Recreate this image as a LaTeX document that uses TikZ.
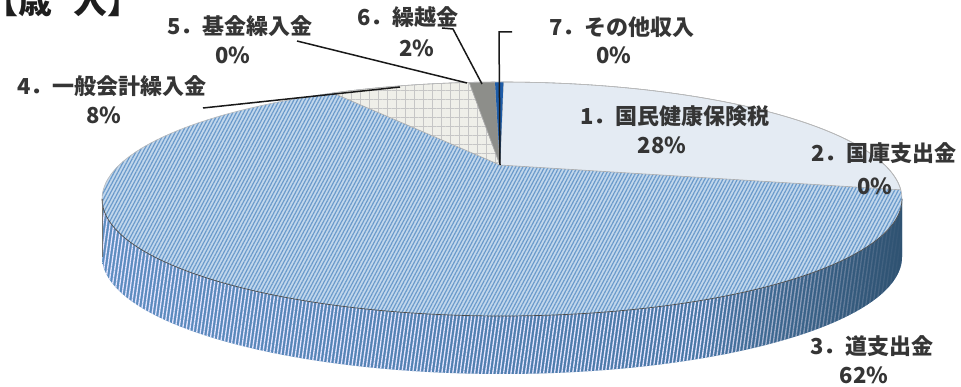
\documentclass[tikz,border=0pt]{standalone}
\usepackage{fontspec}
\setmainfont{Noto Sans CJK JP}
\usetikzlibrary{patterns.meta,fadings}
\definecolor{txt}{HTML}{1E1E1E}
\definecolor{sA}{HTML}{E4EBF3}
\definecolor{sD}{HTML}{EFEFE9}
\definecolor{sF}{HTML}{8D8E8A}
\definecolor{sG}{HTML}{1D5CA8}
\definecolor{topC}{HTML}{C2D7EC}
\definecolor{topL}{HTML}{6A9ACB}
\definecolor{sideL}{HTML}{5D8DC0}
\definecolor{sideR}{HTML}{41709C}
\definecolor{sideD}{HTML}{2F5271}
\tikzfading[name=darkright, left color=transparent!100, right color=transparent!0]
\begin{document}
\begin{tikzpicture}[x=1pt,y=-1pt,
  lab/.style={inner sep=0pt, font=\bfseries\fontsize{22}{25}\selectfont, text=txt!90},
  leader/.style={draw=black!90, line width=1.5pt},
  sliceedge/.style={draw=gray!65, line width=0.6pt}]
\useasboundingbox (0,0) rectangle (961,387);
\clip (0,0) rectangle (961,387);
\fill[white] (0,0) rectangle (961,387);
\coordinate (ap) at (500,165);
% side face
\path[shade, left color=sideL, right color=sideR]
  plot[domain=180:360,samples=90,variable=\t] ({502+400*cos(\t)},{199-117*sin(\t)})
  -- plot[domain=360:180,samples=90,variable=\t] ({502+400*cos(\t)},{257-117*sin(\t)}) -- cycle;
\path[pattern={Lines[angle=82,distance=3.6pt,line width=1.3pt]}, pattern color=white!90!blue]
  plot[domain=180:360,samples=90,variable=\t] ({502+400*cos(\t)},{199-117*sin(\t)})
  -- plot[domain=360:180,samples=90,variable=\t] ({502+400*cos(\t)},{257-117*sin(\t)}) -- cycle;
\begin{scope}
\clip plot[domain=180:360,samples=90,variable=\t] ({502+400*cos(\t)},{199-117*sin(\t)})
  -- plot[domain=360:180,samples=90,variable=\t] ({502+400*cos(\t)},{257-117*sin(\t)}) -- cycle;
\fill[sideD, path fading=darkright] (700,150) rectangle (905,390);
\end{scope}
% top face, slice 3
\path[fill=topC] (502,199) ellipse [x radius=400, y radius=117];
\path[pattern={Lines[angle=62,distance=3.2pt,line width=1.2pt]}, pattern color=topL] (502,199) ellipse [x radius=400, y radius=117];
% slice 1
\path[fill=sA, sliceedge] (ap) -- plot[domain=4.5:89.8,samples=60,variable=\t] ({502+400*cos(\t)},{199-117*sin(\t)}) -- cycle;
% slice 4
\path[fill=sD] (ap) -- plot[domain=94.7:115,samples=30,variable=\t] ({502+400*cos(\t)},{199-117*sin(\t)}) -- cycle;
\path[pattern={Hatch[angle=0,distance=9pt,line width=0.5pt]}, pattern color=gray!45, sliceedge] (ap) -- plot[domain=94.7:115,samples=30,variable=\t] ({502+400*cos(\t)},{199-117*sin(\t)}) -- cycle;
% slice 6
\path[fill=sF, sliceedge] (ap) -- plot[domain=91:94.7,samples=10,variable=\t] ({502+400*cos(\t)},{199-117*sin(\t)}) -- cycle;
% slice 7
\path[fill=sG] (ap) -- plot[domain=89.8:91,samples=5,variable=\t] ({502+400*cos(\t)},{199-117*sin(\t)}) -- cycle;
% outlines
\draw[gray!55, line width=0.6pt] plot[domain=0:180,samples=90,variable=\t] ({502+400*cos(\t)},{199-117*sin(\t)});
\draw[black!70, line width=0.7pt] plot[domain=180:360,samples=90,variable=\t] ({502+400*cos(\t)},{199-117*sin(\t)});
\draw[black!55, line width=0.6pt] (102,199) -- (102,257);
% title
\node[anchor=base west, inner sep=0pt, font=\fontsize{34}{36}\selectfont\bfseries, text=txt] (title) at (-16,14) {【歳\hspace{0.62em}入】};
% labels
\node[lab] (n1) at (675,116) {1．国民健康保険税};
\node[lab] (p1) at (662,145) {28\%};
\node[lab] (n2) at (884,153) {2．国庫支出金};
\node[lab] (p2) at (875,186) {0\%};
\node[lab] (n3) at (872,346) {3．道支出金};
\node[lab] (p3) at (864,375) {62\%};
\node[lab] (n4) at (112,86) {4．一般会計繰入金};
\node[lab] (p4) at (104,115) {8\%};
\node[lab] (n5) at (240,26) {5．基金繰入金};
\node[lab] (p5) at (233,55) {0\%};
\node[lab] (n6) at (408,17) {6．繰越金};
\node[lab] (p6) at (417,48) {2\%};
\node[lab] (n7) at (622,27) {7．その他収入};
\node[lab] (p7) at (614,55) {0\%};
% leaders
\coordinate (a4) at (203,108); \coordinate (b4) at (400,87);
\coordinate (a5) at (297,41);  \coordinate (b5) at (467,83);
\coordinate (a6) at (442,28);  \coordinate (m6) at (453,29); \coordinate (b6) at (482,84);
\coordinate (a7) at (512,32);  \coordinate (m7) at (499,32); \coordinate (b7) at (500,165);
\draw[leader] (a4) -- (b4);
\draw[leader] (a5) -- (b5);
\draw[leader] (a6) -- (m6) -- (b6);
\draw[leader] (a7) -- (m7) -- (b7);
\end{tikzpicture}
\end{document}
